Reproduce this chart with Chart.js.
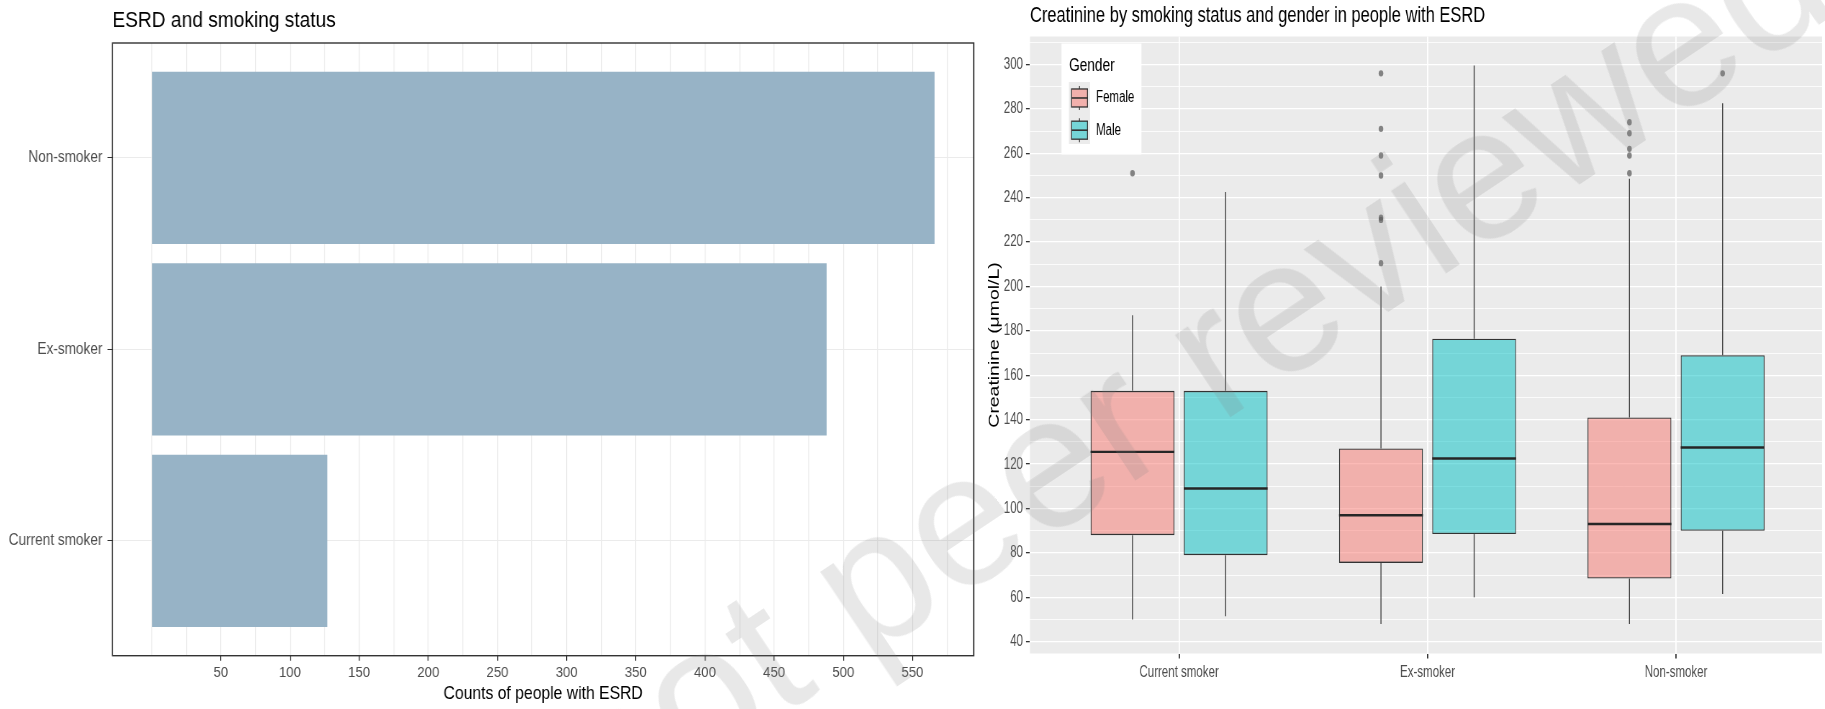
<!DOCTYPE html>
<html>
<head>
<meta charset="utf-8">
<script src="https://cdn.jsdelivr.net/npm/chart.js@4.4.1/dist/chart.umd.min.js"></script>
<style>
  body { margin: 0; background: #fff; width: 1825px; height: 709px; overflow: hidden; position: relative; }
  canvas { position: absolute; top: 0; transform-origin: 0 0; }
  /* both source plots were squeezed sideways in the figure */
  #esrdCanvas { left: 0; transform: scaleX(0.84996); }
  #creatCanvas { left: 980px; transform: scaleX(0.71976); }
  #watermark {
    position: absolute; left: 1188px; top: 368px;
    transform: translate(-50%, -50%) rotate(-33.7deg);
    font: 187px 'Liberation Sans', Arial, sans-serif; line-height: 1;
    color: rgba(128, 128, 128, 0.18); white-space: nowrap; pointer-events: none;
  }
</style>
</head>
<body>
<canvas id="esrdCanvas" width="1153" height="709"></canvas>
<canvas id="creatCanvas" width="1174" height="709"></canvas>
<div id="watermark">not peer reviewed</div>
<script>
// left panel: counts per smoking status
const smokingStatus = ['Current smoker', 'Ex-smoker', 'Non-smoker'];
const esrdCounts = [127, 488, 566];
const countTicks = [50, 100, 150, 200, 250, 300, 350, 400, 450, 500, 550];

// right panel: creatinine box stats per smoking status (Current, Ex, Non)
const genders = ['Female', 'Male'];
const femaleLow = [50, 48, 48];
const femaleQ1 = [88, 75.5, 68.5];
const femaleMedian = [125.5, 97, 93];
const femaleQ3 = [153, 127, 141];
const femaleHigh = [187, 200, 248.5];
const maleLow = [51.5, 60, 61.5];
const maleQ1 = [79, 88.5, 90];
const maleMedian = [109, 122.5, 127.5];
const maleQ3 = [153, 176.5, 169];
const maleHigh = [242.5, 299.5, 282.5];
const femaleOutliers = [[251], [296, 271, 259, 250, 231, 230, 210.5], [274, 269, 262, 259, 251]];
const maleOutliers = [[], [], [296]];
const creatinineTicks = [40, 60, 80, 100, 120, 140, 160, 180, 200, 220, 240, 260, 280, 300];

const font = "'Liberation Sans', Arial, sans-serif";
Chart.defaults.font.family = font;
Chart.defaults.color = '#4d4d4d';

const kL = 0.84996;  // sideways squeeze of the left canvas
const kR = 0.71976;  // and of the right one

const panelBorder = {
  id: 'panelBorder',
  afterDraw(chart) {
    const {ctx, chartArea: a} = chart;
    ctx.save();
    ctx.strokeStyle = '#333';
    ctx.lineWidth = 1.4;
    ctx.strokeRect(a.left, a.top, a.right - a.left, a.bottom - a.top);
    ctx.restore();
  }
};

new Chart(document.getElementById('esrdCanvas'), {
  type: 'bar',
  data: {
    datasets: [{
      label: 'Counts of people with ESRD',
      data: smokingStatus.map((s, i) => ({x: esrdCounts[i], y: i + 1})),
      backgroundColor: '#97b3c6',
      barPercentage: 0.9,
      categoryPercentage: 1
    }]
  },
  options: {
    indexAxis: 'y',
    responsive: false,
    animation: false,
    layout: {padding: {right: 6.25 / kL}},
    plugins: {
      legend: {display: false},
      tooltip: {enabled: false},
      title: {
        display: true, text: 'ESRD and smoking status', align: 'start', fullSize: false,
        color: '#000', font: {size: 22.5, weight: 'normal'},
        padding: {top: 7, bottom: 9}
      }
    },
    scales: {
      x: {
        type: 'linear', min: -28.3, max: 594.3,
        afterBuildTicks: s => {
          const half = (countTicks[1] - countTicks[0]) / 2;
          s.ticks = [];
          for (let v = 0; v <= s.max; v += half) s.ticks.push({value: v});
        },
        ticks: {callback: v => countTicks.includes(v) ? v : '', font: {size: 15.5}, padding: 3, maxRotation: 0, autoSkip: false},
        grid: {
          color: '#ebebeb', lineWidth: 1 / kL, tickLength: 5,
          tickColor: c => countTicks.includes(c.tick.value) ? '#333' : 'rgba(0,0,0,0)'
        },
        border: {display: false},
        title: {display: true, text: 'Counts of people with ESRD', color: '#000', font: {size: 18.5}, padding: {top: 0, bottom: 3.9}},
        afterFit: s => { s.height = 53.3; }
      },
      y: {
        type: 'linear', min: 0.4, max: 3.6, offset: false,
        afterBuildTicks: s => { s.ticks = smokingStatus.map((c, i) => ({value: i + 1})); },
        ticks: {callback: v => smokingStatus[v - 1], font: {size: 16}, padding: 6},
        grid: {color: '#ebebeb', offset: false, tickLength: 5 / kL, tickColor: '#333'},
        border: {display: false},
        afterFit: s => { s.width = 112.5 / kL; }
      }
    }
  },
  plugins: [panelBorder]
});

// right panel
const dodge = 0.1875;
const boxPoints = (q1, q3, side) => smokingStatus.map((c, i) => ({x: i + 1 + side * dodge, y: [q1[i], q3[i]]}));
const outlierPoints = [];
smokingStatus.forEach((c, i) => {
  femaleOutliers[i].forEach(v => outlierPoints.push({x: i + 1 - dodge, y: v}));
  maleOutliers[i].forEach(v => outlierPoints.push({x: i + 1 + dodge, y: v}));
});

const genderFill = ['rgba(248,118,109,0.5)', 'rgba(0,191,196,0.5)'];

const panelBackground = {
  id: 'panelBackground',
  beforeDraw(chart) {
    const {ctx, chartArea: a} = chart;
    ctx.save();
    ctx.fillStyle = '#ebebeb';
    ctx.fillRect(a.left, a.top, a.right - a.left, a.bottom - a.top);
    ctx.restore();
  }
};

const boxWhiskers = {
  id: 'boxWhiskers',
  afterDatasetsDraw(chart) {
    const {ctx} = chart;
    const y = chart.scales.y;
    const seg = (x1, y1, x2, y2) => { ctx.beginPath(); ctx.moveTo(x1, y1); ctx.lineTo(x2, y2); ctx.stroke(); };
    chart.data.datasets.forEach((ds, di) => {
      if (!ds.stats) return;
      chart.getDatasetMeta(di).data.forEach((bar, i) => {
        const {x, width} = bar.getProps(['x', 'width'], true);
        ctx.save();
        ctx.strokeStyle = '#333';
        ctx.lineWidth = 1.3;
        seg(x, y.getPixelForValue(ds.stats.low[i]), x, y.getPixelForValue(ds.stats.q1[i]));
        seg(x, y.getPixelForValue(ds.stats.q3[i]), x, y.getPixelForValue(ds.stats.high[i]));
        ctx.strokeStyle = '#262626';
        ctx.lineWidth = 2.4;
        const m = y.getPixelForValue(ds.stats.median[i]);
        seg(x - width / 2, m, x + width / 2, m);
        ctx.restore();
      });
    });
  }
};

const genderLegend = {
  id: 'genderLegend',
  afterDraw(chart) {
    const {ctx, chartArea: a} = chart;
    const sx = v => v / kR;
    const x0 = a.left + sx(31.5), y0 = a.top + 7;
    ctx.save();
    ctx.fillStyle = '#fff';
    ctx.fillRect(x0, y0, sx(80), 111);
    ctx.fillStyle = '#000';
    ctx.textBaseline = 'middle';
    ctx.font = '19px ' + font;
    ctx.fillText('Gender', x0 + sx(7.5), y0 + 22.5);
    ctx.fillStyle = '#ebebeb';
    ctx.fillRect(x0 + sx(7.5), y0 + 38.5, sx(21), 62);
    genders.forEach((g, i) => {
      const cy = y0 + 54.5 + i * 32.2;
      const cx = x0 + sx(18);
      ctx.strokeStyle = '#333';
      ctx.lineWidth = 1.3;
      ctx.beginPath(); ctx.moveTo(cx, cy - 12); ctx.lineTo(cx, cy + 12); ctx.stroke();
      ctx.fillStyle = '#ebebeb';
      ctx.fillRect(cx - sx(8), cy - 9, sx(16), 18);
      ctx.fillStyle = genderFill[i];
      ctx.fillRect(cx - sx(8), cy - 9, sx(16), 18);
      ctx.lineWidth = 1.3;
      ctx.strokeRect(cx - sx(8), cy - 9, sx(16), 18);
      ctx.lineWidth = 1.6;
      ctx.beginPath(); ctx.moveTo(cx - sx(8), cy); ctx.lineTo(cx + sx(8), cy); ctx.stroke();
      ctx.fillStyle = '#000';
      ctx.font = '16px ' + font;
      ctx.fillText(g, x0 + sx(34.5), cy);
    });
    ctx.restore();
  }
};

new Chart(document.getElementById('creatCanvas'), {
  type: 'bar',
  data: {
    datasets: [
      {
        label: 'Female', data: boxPoints(femaleQ1, femaleQ3, -1),
        backgroundColor: genderFill[0], borderColor: '#333', borderWidth: 1.3, borderSkipped: false,
        grouped: false, barPercentage: 0.9, categoryPercentage: 1,
        stats: {low: femaleLow, q1: femaleQ1, median: femaleMedian, q3: femaleQ3, high: femaleHigh}
      },
      {
        label: 'Male', data: boxPoints(maleQ1, maleQ3, 1),
        backgroundColor: genderFill[1], borderColor: '#333', borderWidth: 1.3, borderSkipped: false,
        grouped: false, barPercentage: 0.9, categoryPercentage: 1,
        stats: {low: maleLow, q1: maleQ1, median: maleMedian, q3: maleQ3, high: maleHigh}
      },
      {
        type: 'scatter', label: 'Outliers', data: outlierPoints,
        pointRadius: 3.2, pointBackgroundColor: 'rgba(85,85,85,0.7)', pointBorderWidth: 0
      }
    ]
  },
  options: {
    responsive: false,
    animation: false,
    plugins: {
      legend: {display: false},
      tooltip: {enabled: false},
      title: {
        display: true, text: 'Creatinine by smoking status and gender in people with ESRD',
        align: 'start', fullSize: false, color: '#000',
        font: {size: 22.9, weight: 'normal'}, padding: {top: 2, bottom: 7}
      }
    },
    scales: {
      x: {
        type: 'linear', min: 0.4, max: 3.588, offset: false,
        afterBuildTicks: s => { s.ticks = smokingStatus.map((c, i) => ({value: i + 1})); },
        ticks: {callback: v => smokingStatus[v - 1], font: {size: 16}, padding: 4.6, maxRotation: 0, autoSkip: false},
        grid: {color: '#fff', offset: false, lineWidth: 1.8, tickLength: 5, tickColor: '#333'},
        border: {display: false},
        afterFit: s => { s.height = 55.5; }
      },
      y: {
        type: 'linear', min: 34.7, max: 312.6,
        afterBuildTicks: s => {
          const half = (creatinineTicks[1] - creatinineTicks[0]) / 2;
          s.ticks = [];
          for (let v = creatinineTicks[0]; v <= s.max; v += half) s.ticks.push({value: v});
        },
        ticks: {callback: v => creatinineTicks.includes(v) ? v : '', font: {size: 16}, padding: 4.2, autoSkip: false},
        grid: {
          color: '#fff', tickLength: 4 / kR,
          lineWidth: c => creatinineTicks.includes(c.tick.value) ? 1.3 : 0.8,
          tickColor: c => creatinineTicks.includes(c.tick.value) ? '#333' : 'rgba(0,0,0,0)'
        },
        border: {display: false},
        title: {display: true, text: 'Creatinine (μmol/L)', color: '#000', font: {size: 19.4}, padding: {top: 9.2}},
        afterFit: s => { s.width = 50 / kR; }
      }
    }
  },
  plugins: [panelBackground, boxWhiskers, genderLegend]
});
</script>
</body>
</html>
